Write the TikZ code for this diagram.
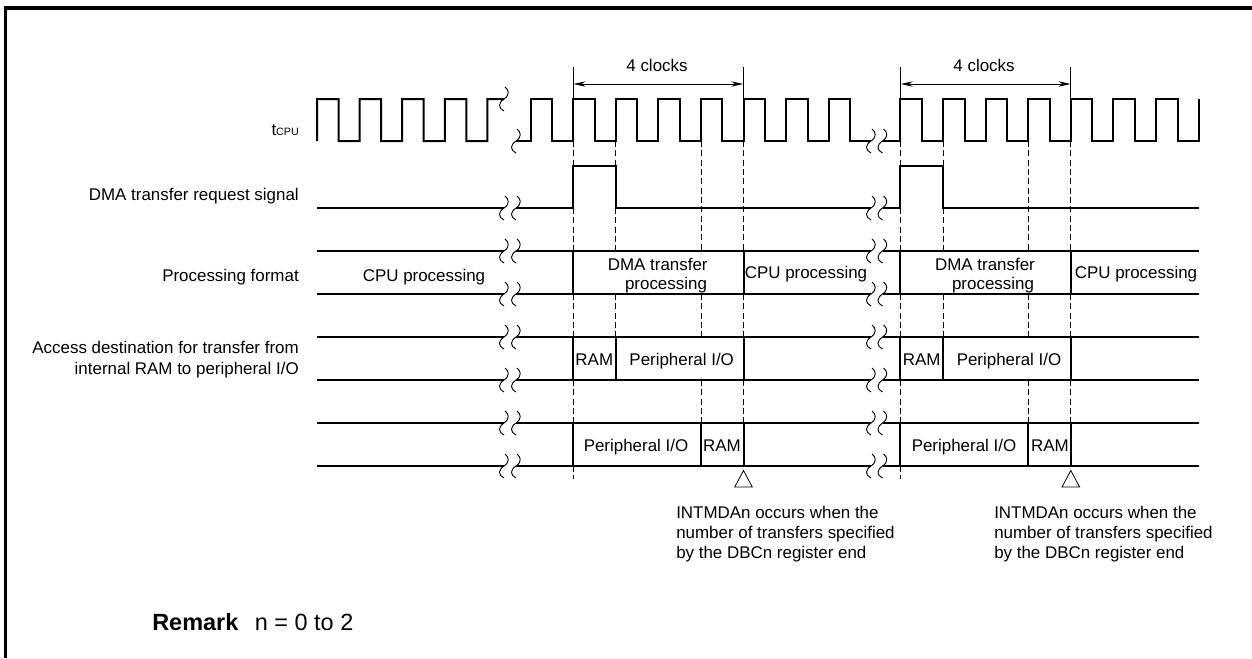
\documentclass[tikz,border=0pt]{standalone}
\usepackage{fontspec}
\setmainfont{Liberation Sans}
\usetikzlibrary{arrows.meta}
\begin{document}
\begin{tikzpicture}[x=0.75pt,y=-0.75pt,
  font=\fontsize{12.7}{15}\selectfont,
  lbl/.style={inner sep=0pt, anchor=base},
  rlbl/.style={inner sep=0pt, anchor=base east},
  note/.style={inner sep=0pt, anchor=north west, align=left},
  sig/.style={line width=1.5pt, line join=miter},
  thin line/.style={line width=0.6pt},
  tick/.style={line width=0.6pt, dash pattern=on 4.5pt off 2.5pt},
  dim/.style={line width=0.6pt, {Stealth[length=9pt,width=4pt]}-{Stealth[length=9pt,width=4pt]}},
  brk/.pic={\draw[line width=0.7pt] (1,-12) .. controls (5,-9) and (6,-4) .. (0,0)
            .. controls (-6,4) and (-6,9) .. (0,12);}
]
  \useasboundingbox (0,0) rectangle (1252,658);
  \draw[line width=2.4pt] (5.5,658) -- (5.5,8) -- (1252,8);

  \node[rlbl] (ltcpu) at (299,135) {t{\fontsize{8}{8}\selectfont CPU}};
  \node[rlbl] (lreq) at (299,200) {DMA transfer request signal};
  \node[rlbl] (lfmt) at (299,281.7) {Processing format};
  \node[rlbl] (lacc) at (299,353.3) {Access destination for transfer from};
  \node[rlbl] (lacc2) at (299,374) {internal RAM to peripheral I/O};

  % clock
  \draw[sig] (317,141) \foreach \x in {317,359.6,402.2,444.8} {
      -- (\x,99) -- ({\x+21.5},99) -- ({\x+21.5},141) -- ({\x+42.6},141)}
      -- (487.4,99) -- (504,99);
  \draw[sig] (516,141) \foreach \x in {530.5,573.1,615.7,658.3,700.9,743.5,786.1,828.7} {
      -- (\x,141) -- (\x,99) -- ({\x+21.5},99) -- ({\x+21.5},141)} -- (871,141);
  \draw[sig] (882.5,141) \foreach \x in {900.4,943,985.6,1028.2,1070.8,1113.4,1156} {
      -- (\x,141) -- (\x,99) -- ({\x+21.5},99) -- ({\x+21.5},141)}
      -- (1198.6,141) -- (1198.6,99);
  \pic at (504,99) {brk};
  \pic at (516,141) {brk};
  \pic at (871,141) {brk};
  \pic at (882.5,141) {brk};

  % request signal
  \draw[sig] (317,208) -- (504,208);
  \draw[sig] (516,208) -- (573.1,208) -- (573.1,166) -- (615.7,166) -- (615.7,208) -- (871,208);
  \draw[sig] (882.5,208) -- (900.4,208) -- (900.4,166) -- (943,166) -- (943,208) -- (1199,208);

  % rows
  \foreach \y in {251,294,337,380,423,466} {
    \draw[sig] (317,\y) -- (504,\y);
    \draw[sig] (516,\y) -- (871,\y);
    \draw[sig] (882.5,\y) -- (1199,\y);
  }
  \foreach \y in {208,251,294,337,380,423,466} {
    \pic at (504,\y) {brk};
    \pic at (516,\y) {brk};
    \pic at (871,\y) {brk};
    \pic at (882.5,\y) {brk};
  }

  \foreach \x/\xb/\xc/\xd in {573.1/615.7/700.9/743.5, 900.4/943/1028.2/1070.8} {
    \draw[sig] (\x,251) -- (\x,294);
    \draw[sig] (\xd,251) -- (\xd,294);
    \draw[sig] (\x,337) -- (\x,380);
    \draw[sig] (\xb,337) -- (\xb,380);
    \draw[sig] (\xd,337) -- (\xd,380);
    \draw[sig] (\x,423) -- (\x,466);
    \draw[sig] (\xc,423) -- (\xc,466);
    \draw[sig] (\xd,423) -- (\xd,466);
    \draw[tick] (\x,141) -- (\x,166);
    \draw[tick] (\x,208) -- (\x,251);
    \draw[tick] (\x,294) -- (\x,337);
    \draw[tick] (\x,380) -- (\x,423);
    \draw[tick] (\x,466) -- (\x,479);
    \draw[tick] (\xb,141) -- (\xb,166);
    \draw[tick] (\xb,208) -- (\xb,251);
    \draw[tick] (\xb,294) -- (\xb,337);
    \draw[tick] (\xc,141) -- (\xc,251);
    \draw[tick] (\xc,294) -- (\xc,337);
    \draw[tick] (\xc,380) -- (\xc,423);
    \draw[tick] (\xd,141) -- (\xd,251);
    \draw[tick] (\xd,294) -- (\xd,337);
    \draw[tick] (\xd,380) -- (\xd,423);
    \draw[thin line] (\x,67) -- (\x,99);
    \draw[thin line] (\xd,67) -- (\xd,99);
    \draw[thin line] (\xd,470.5) -- ({\xd-8.8},487) -- ({\xd+8.8},487) -- cycle;
  }

  \coordinate (aleft) at (573.5,84);
  \coordinate (aright) at (743.2,84);
  \coordinate (bleft) at (900.8,84);
  \coordinate (bright) at (1070.5,84);
  \draw[dim] (aleft) -- (aright);
  \draw[dim] (bleft) -- (bright);
  \node[lbl] (clka) at (657,71.7) {4 clocks};
  \node[lbl] (clkb) at (984,71.7) {4 clocks};

  \node[lbl] (cpua) at (424,281.7) {CPU processing};
  \node[lbl] (dmaa) at (657.7,270.7) {DMA transfer};
  \node[lbl] (proca) at (666,289) {processing};
  \node[lbl] (cpub) at (806,278) {CPU processing};
  \node[lbl] (dmab) at (985,270.7) {DMA transfer};
  \node[lbl] (procb) at (993,289) {processing};
  \node[lbl] (cpuc) at (1136,278) {CPU processing};

  \node[lbl] (rama) at (594.3,365) {RAM};
  \node[lbl] (peria) at (681.7,365) {Peripheral I/O};
  \node[lbl] (ramb) at (921.7,365) {RAM};
  \node[lbl] (perib) at (1009,365) {Peripheral I/O};
  \node[lbl] (perc) at (636,451.7) {Peripheral I/O};
  \node[lbl] (ramc) at (722,451.7) {RAM};
  \node[lbl] (perd) at (964,451.7) {Peripheral I/O};
  \node[lbl] (ramd) at (1050,451.7) {RAM};

  \node[note] (nota) at (676,505.5) {INTMDAn occurs when the\\number of transfers specified\\by the DBCn register end};
  \node[note] (notb) at (994,505.5) {INTMDAn occurs when the\\number of transfers specified\\by the DBCn register end};

  \node[inner sep=0pt, anchor=base west, font=\fontsize{17.6}{20}\selectfont] (rem) at (152,630.7)
        {\textbf{Remark}\hspace{0.7em}n = 0 to 2};
\end{tikzpicture}
\end{document}
